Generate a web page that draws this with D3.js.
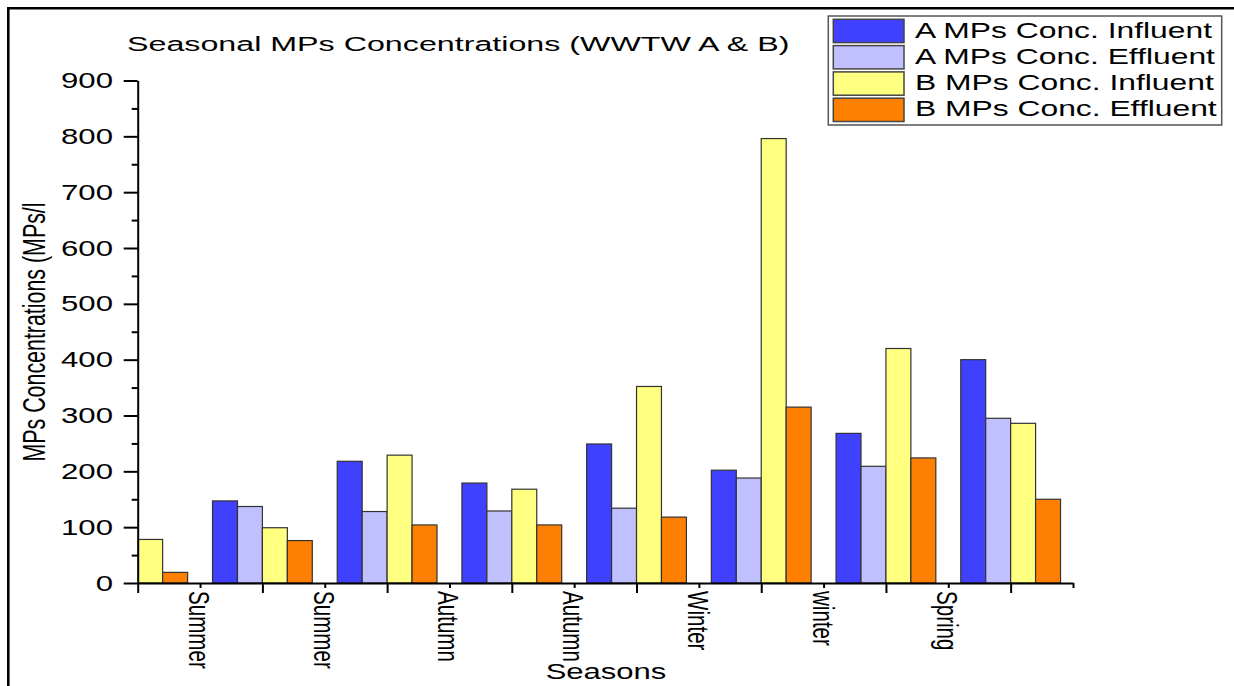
<!DOCTYPE html>
<html lang="en">

<head>
    <meta charset="UTF-8">
    <title>Seasonal MPs Concentrations</title>
    <style>
        body { margin: 0; background: #fff; }
        svg { display: block; font-family: "Liberation Sans", Arial, sans-serif; }
    </style>
</head>

<body>
    <svg id="chart" width="1234" height="686"></svg>

    <script src="https://cdnjs.cloudflare.com/ajax/libs/d3/7.8.5/d3.min.js"></script>
    <script>
        // Data (group 0 has no WWTW A bars visible)
        const seasonLabels = ["Summer", "Summer", "Autumn", "Autumn", "Winter", "winter", "Spring"];
        const groups = [0, 1, 2, 3, 4, 5, 6, 7];
        const aInfluent = [null, 147, 218, 179, 249, 202, 268, 400];
        const aEffluent = [null, 137, 128, 129, 134, 188, 209, 295];
        const bInfluent = [78, 99, 229, 168, 352, 796, 420, 286];
        const bEffluent = [19, 76, 104, 104, 118, 315, 224, 150];
        const seriesNames = ["A MPs Conc. Influent", "A MPs Conc. Effluent", "B MPs Conc. Influent", "B MPs Conc. Effluent"];
        const seriesColors = ["#4040ff", "#c0c0ff", "#ffff80", "#ff8000"];
        const yMajorTicks = [0, 100, 200, 300, 400, 500, 600, 700, 800, 900];
        const yMinorTicks = [50, 150, 250, 350, 450, 550, 650, 750, 850];
        const xMajorTicks = [0, 1, 2, 3, 4, 5, 6, 7];
        const xMinorTicks = [0.5, 1.5, 2.5, 3.5, 4.5, 5.5, 6.5, 7.5];

        const series = [aInfluent, aEffluent, bInfluent, bEffluent];
        const SX = 1.45; // the original picture is stretched sideways

        const svg = d3.select("#chart");
        const plot = { left: 137.7, right: 1073, top: 80.5, bottom: 583 };

        const x = d3.scaleLinear().domain([0, 7.5]).range([plot.left, plot.right]);
        const y = d3.scaleLinear().domain([0, 900]).range([plot.bottom, plot.top]);
        const barW = 0.2;

        // outer frame (top and left edges)
        svg.append("line").attr("x1", 7).attr("x2", 1234).attr("y1", 8.3).attr("y2", 8.3)
            .attr("stroke", "#000").attr("stroke-width", 2.6);
        svg.append("line").attr("x1", 8.3).attr("x2", 8.3).attr("y1", 7).attr("y2", 686)
            .attr("stroke", "#000").attr("stroke-width", 2.6);

        svg.append("clipPath").attr("id", "plotClip").append("rect")
            .attr("x", plot.left).attr("y", 0)
            .attr("width", plot.right - plot.left).attr("height", plot.bottom);

        // bars
        const bars = svg.append("g").attr("clip-path", "url(#plotClip)");
        series.forEach((vals, si) => {
            bars.selectAll(".s" + si)
                .data(groups.filter(g => vals[g] != null))
                .join("rect")
                .attr("x", g => x(g + (si - 2) * barW))
                .attr("width", x(barW) - x(0))
                .attr("y", g => y(vals[g]))
                .attr("height", g => y(0) - y(vals[g]))
                .attr("fill", seriesColors[si])
                .attr("stroke", "#333")
                .attr("stroke-width", 1.2);
        });

        // y axis
        const yAxisG = svg.append("g").attr("transform", `translate(${plot.left},0)`);
        yAxisG.call(d3.axisLeft(y).tickValues(yMajorTicks).tickSize(14).tickSizeOuter(0).tickFormat(""));
        yAxisG.append("g").call(d3.axisLeft(y).tickValues(yMinorTicks).tickSize(6).tickFormat(""))
            .select(".domain").remove();
        yAxisG.selectAll("line").attr("stroke", "#000").attr("stroke-width", 2);
        yAxisG.selectAll(".domain").attr("stroke", "#000").attr("stroke-width", 2);

        svg.append("g").selectAll("text")
            .data(yMajorTicks)
            .join("text")
            .attr("transform", d => `translate(113,${y(d) + 7.6}) scale(${SX},1)`)
            .attr("text-anchor", "end")
            .attr("font-size", 21.5)
            .text(d => d);

        // x axis
        const xAxisG = svg.append("g").attr("transform", `translate(0,${plot.bottom})`);
        xAxisG.call(d3.axisBottom(x).tickValues(xMajorTicks).tickSize(10).tickSizeOuter(0).tickFormat(""));
        xAxisG.append("g").call(d3.axisBottom(x).tickValues(xMinorTicks).tickSize(5).tickFormat(""))
            .select(".domain").remove();
        xAxisG.selectAll("line").attr("stroke", "#000").attr("stroke-width", 2);
        xAxisG.selectAll(".domain").attr("stroke", "#000").attr("stroke-width", 2);

        svg.append("g").selectAll("text")
            .data(seasonLabels)
            .join("text")
            .attr("transform", (d, i) => `translate(${x(xMinorTicks[i]) - 11},591) scale(${SX},1) rotate(90)`)
            .attr("font-size", 20.6)
            .text(d => d);

        // titles
        svg.append("text")
            .attr("transform", `translate(127,51) scale(1.55,1)`)
            .attr("font-size", 20.8)
            .text("Seasonal MPs Concentrations (WWTW A & B)");

        svg.append("text")
            .attr("transform", `translate(606,679) scale(${SX},1)`)
            .attr("text-anchor", "middle")
            .attr("font-size", 21.4)
            .text("Seasons");

        svg.append("text")
            .attr("transform", `translate(45,332) scale(${SX},1) rotate(-90)`)
            .attr("text-anchor", "middle")
            .attr("font-size", 21.4)
            .text("MPs Concentrations (MPs/l");

        // legend
        const legend = svg.append("g");
        legend.append("rect")
            .attr("x", 828.3).attr("y", 16).attr("width", 393.4).attr("height", 109)
            .attr("fill", "#fff").attr("stroke", "#555").attr("stroke-width", 1.5);
        const item = legend.selectAll(".item")
            .data(seriesNames)
            .join("g")
            .attr("transform", (d, i) => `translate(0,${19.3 + i * 26.3})`);
        item.append("rect")
            .attr("x", 833.3).attr("width", 70.7).attr("height", 23.3)
            .attr("fill", (d, i) => seriesColors[i])
            .attr("stroke", "#444").attr("stroke-width", 1.5);
        item.append("text")
            .attr("transform", `translate(915,18.2) scale(1.48,1)`)
            .attr("font-size", 21.5)
            .text(d => d);
    </script>
</body>

</html>
